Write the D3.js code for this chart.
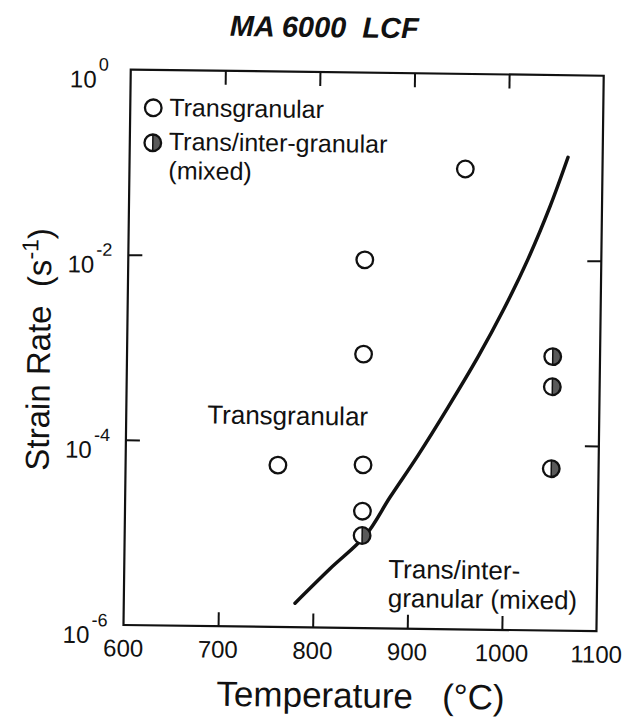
<!DOCTYPE html>
<html><head><meta charset="utf-8">
<script src="https://cdn.jsdelivr.net/npm/d3@7"></script>
<style>body{margin:0;background:#fff}svg{display:block}text{font-family:"Liberation Sans",Arial,sans-serif;fill:#111;white-space:pre}</style>
</head><body><svg id="c" width="637" height="717"></svg>
<script>
// Data
const transgranularT = [955, 850, 850, 761, 851, 851];
const transgranularRate = [0.094, 0.0095, 9.1e-4, 5.6e-5, 5.8e-5, 1.83e-5];
const mixedT = [851, 1050, 1050, 1050];
const mixedRate = [1.0e-5, 9.1e-4, 4.3e-4, 5.6e-5];
const boundaryT = [781, 817.5, 854.8, 879.9, 909, 940, 971, 997.8, 1022.5, 1045.1, 1063.4];
const boundaryRate = [1.82e-6, 4.33e-6, 1.01e-5, 2.61e-5, 7.48e-5, 2.49e-4, 8.81e-4, 2.94e-3, 1.02e-2, 3.81e-2, 0.13];
const xTicks = [600, 700, 800, 900, 1000, 1100];
const yTickExp = [0, -2, -4, -6];

const svg = d3.select("#c");
const root = svg.append("g").attr("transform", "rotate(0.75,318,358)");
const L = 127, R = 600, T = 72, B = 627.5;
const x = d3.scaleLinear().domain([600, 1100]).range([L, R]);
const y = d3.scaleLog().domain([1e-6, 1]).range([B, T]);

// Title
root.append("text").attr("x", 320).attr("y", 37).attr("text-anchor", "middle")
  .style("font-size", "29px").style("font-weight", "bold").style("font-style", "italic")
  .text("MA 6000  LCF");

// Frame
root.append("rect").attr("x", L).attr("y", T).attr("width", R - L).attr("height", B - T)
  .attr("fill", "none").attr("stroke", "#111").attr("stroke-width", 2.2);

// Inward ticks through axes
const inner = xTicks.slice(1, -1);
const yInner = [1e-2, 1e-4];
const gb = root.append("g").attr("transform", `translate(0,${B})`)
  .call(d3.axisTop(x).tickValues(inner).tickSize(14).tickFormat(""));
const gt = root.append("g").attr("transform", `translate(0,${T})`)
  .call(d3.axisBottom(x).tickValues(inner).tickSize(14).tickFormat(""));
const gl = root.append("g").attr("transform", `translate(${L},0)`)
  .call(d3.axisRight(y).tickValues(yInner).tickSize(14).tickFormat(""));
const gr = root.append("g").attr("transform", `translate(${R},0)`)
  .call(d3.axisLeft(y).tickValues(yInner).tickSize(14).tickFormat(""));
[gb, gt, gl, gr].forEach(g => { g.select(".domain").remove(); g.selectAll("line").attr("stroke", "#111").attr("stroke-width", 2); });

// X tick labels
root.selectAll(".xl").data(xTicks).enter().append("text")
  .attr("x", d => x(d)).attr("y", 659)
  .attr("text-anchor", "middle").style("font-size", "24px").text(d => d);

// Y tick labels
yTickExp.forEach(e => {
  const yy = y(Math.pow(10, e));
  root.append("text").attr("x", 93).attr("y", yy + 18.5).attr("text-anchor", "end")
    .style("font-size", "24px").text("10");
  root.append("text").attr("x", 95).attr("y", yy + 1.5)
    .style("font-size", "18px").text(e === 0 ? "0" : "-" + (-e));
});

// Axis titles
root.append("text").attr("x", 365).attr("y", 707).attr("text-anchor", "middle")
  .style("font-size", "35px").text("Temperature   (°C)");
const yt = root.append("text").attr("transform", "translate(50,353) rotate(-90)").attr("text-anchor", "middle")
  .style("font-size", "33px");
yt.append("tspan").text("Strain Rate  (s");
yt.append("tspan").attr("dy", -13).style("font-size", "23px").text("-1");
yt.append("tspan").attr("dy", 13).text(")");

// Boundary curve
const line = d3.line().x(d => x(d[0])).y(d => y(d[1])).curve(d3.curveCatmullRom.alpha(0.5));
root.append("path").datum(boundaryT.map((t, i) => [t, boundaryRate[i]]))
  .attr("d", line).attr("fill", "none").attr("stroke", "#111").attr("stroke-width", 3.5)
  .attr("stroke-linecap", "round");

// Markers
const r = 8.3;
function openMarker(cx, cy) {
  root.append("circle").attr("cx", cx).attr("cy", cy).attr("r", r)
    .attr("fill", "#fff").attr("stroke", "#111").attr("stroke-width", 2.3);
}
function mixedMarker(cx, cy) {
  root.append("circle").attr("cx", cx).attr("cy", cy).attr("r", r).attr("fill", "#fff");
  root.append("path").attr("d", `M${cx},${cy - r} A${r},${r} 0 0 1 ${cx},${cy + r} Z`).attr("fill", "#5a5a5a");
  root.append("line").attr("x1", cx).attr("x2", cx).attr("y1", cy - r).attr("y2", cy + r)
    .attr("stroke", "#111").attr("stroke-width", 1.5);
  root.append("circle").attr("cx", cx).attr("cy", cy).attr("r", r)
    .attr("fill", "none").attr("stroke", "#111").attr("stroke-width", 2.3);
}
transgranularT.forEach((t, i) => openMarker(x(t), y(transgranularRate[i])));
mixedT.forEach((t, i) => mixedMarker(x(t), y(mixedRate[i])));

// Legend
openMarker(150, 110);
root.append("text").attr("x", 166).attr("y", 118).style("font-size", "25px").text("Transgranular");
mixedMarker(150, 145);
root.append("text").attr("x", 166).attr("y", 152).style("font-size", "25px").text("Trans/inter-granular");
root.append("text").attr("x", 166).attr("y", 181).style("font-size", "25px").text("(mixed)");

// Region annotations
root.append("text").attr("x", 208).attr("y", 425).style("font-size", "26px").text("Transgranular");
root.append("text").attr("x", 391).attr("y", 577).style("font-size", "26px").text("Trans/inter-");
root.append("text").attr("x", 391).attr("y", 606).style("font-size", "26px").text("granular (mixed)");
</script></body></html>
